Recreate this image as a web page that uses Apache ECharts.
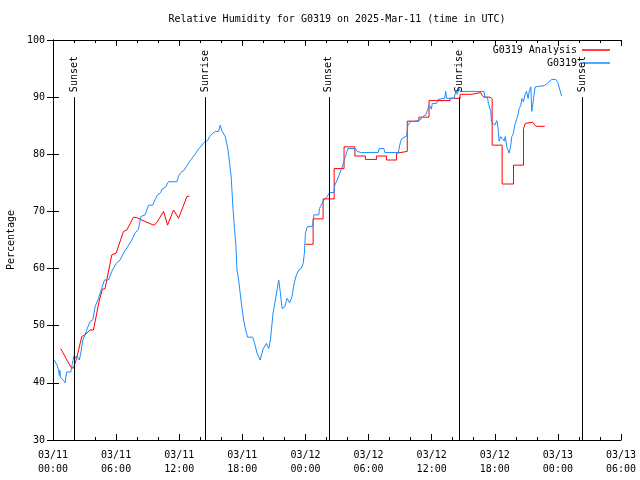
<!DOCTYPE html>
<html><head><meta charset="utf-8">
<script src="https://cdn.jsdelivr.net/npm/echarts@6/dist/echarts.min.js"></script>
<style>html,body{margin:0;padding:0;background:#fff}#c{width:640px;height:480px}</style>
</head><body><div id="c"></div>
<script>
// hours since 03/11 00:00 UTC
const blueHours = [0.12,0.41,0.55,0.6,0.65,0.7,0.83,1.0,1.14,1.3,1.69,1.84,2.03,2.1,2.25,2.5,2.67,2.83,3.05,3.21,3.52,3.78,4.0,4.32,4.63,4.89,5.27,5.59,6.0,6.38,6.7,7.08,7.49,7.81,8.13,8.35,8.76,8.92,9.08,9.49,9.71,9.94,10.25,10.35,10.67,10.98,11.78,11.94,12.16,12.48,12.73,12.98,13.21,13.52,13.84,14.1,14.38,14.7,14.89,15.11,15.43,15.75,15.9,16.06,16.38,16.54,16.63,16.79,16.95,17.1,17.24,17.4,17.49,17.65,17.87,18.12,18.32,18.5,18.98,19.17,19.4,19.7,19.97,20.29,20.51,20.67,20.92,21.14,21.3,21.46,21.62,21.78,22.03,22.25,22.5,22.73,22.89,23.14,23.37,23.59,23.78,23.9,24.0,24.1,24.17,24.32,24.7,24.79,25.27,25.33,25.49,25.65,25.75,26.06,26.29,26.7,26.79,27.02,27.27,27.49,27.65,27.81,28.03,28.76,28.92,29.3,30.92,31.0,31.46,31.55,32.83,32.9,33.05,33.2,33.62,33.74,34.0,34.38,34.48,34.89,35.02,35.17,35.43,35.59,35.75,35.81,35.97,36.06,36.48,36.6,37.24,37.33,37.43,38.13,38.29,38.45,38.6,38.75,40.98,41.05,41.3,41.4,41.5,41.62,41.68,41.85,42.0,42.2,42.32,42.41,42.57,42.75,42.9,43.0,43.14,43.37,43.5,43.62,43.78,43.9,44.1,44.22,44.32,44.48,44.57,44.73,44.86,45.02,45.17,45.27,45.43,45.52,45.65,45.84,46.7,47.0,47.4,47.8,48.0,48.14,48.35];
const blueValues = [44.0,43.0,42.0,41.3,42.2,41.0,40.8,40.4,40.0,41.9,41.9,43.4,44.9,44.3,44.7,44.0,45.5,47.5,48.4,49.3,50.7,51.0,53.3,54.8,56.5,58.0,58.0,59.5,60.9,61.5,62.7,63.8,65.0,66.2,66.9,69.1,69.4,70.25,71.1,71.1,72.1,72.9,73.3,73.9,74.2,75.2,75.2,76.2,76.8,77.25,78.0,78.7,79.3,80.05,80.9,81.45,82.1,82.4,83.1,83.55,84.0,84.0,85.1,84.1,83.1,83.1,80.9,78.5,75.8,70.8,67.3,63.8,59.75,58.0,54.5,51.0,49.25,48.0,48.0,46.9,45.2,44.0,45.9,46.9,46.0,47.5,52.2,54.5,56.25,58.0,55.7,53.0,53.3,54.8,54.0,55.1,57.1,58.9,59.75,60.0,60.9,62.7,66.2,66.5,67.3,67.3,67.45,69.4,69.4,70.5,71.1,70.9,72.0,72.6,73.3,73.3,74.6,75.5,76.7,77.8,78.7,79.6,81.0,81.0,80.5,80.3,80.3,81.0,81.0,80.3,80.3,81.0,82.3,82.8,83.2,85.1,85.75,85.75,86.0,86.0,86.3,86.6,86.9,87.6,88.6,88.9,87.9,88.9,88.9,89.6,89.8,91.0,89.8,89.8,91.0,90.5,91.5,91.0,91.0,90.0,90.0,88.9,88.6,87.5,85.75,86.0,85.1,85.9,84.5,82.3,83.1,82.8,82.3,83.1,81.3,80.2,81.3,83.1,83.7,85.1,86.25,87.1,88.0,88.6,89.75,89.2,90.4,91.0,89.75,91.0,91.8,87.5,89.2,91.8,92.0,92.4,93.1,93.1,92.5,91.6,90.2];
const redHours = [0.73,0.92,1.68,1.94,2.25,2.73,3.05,3.52,3.84,4.41,4.7,4.95,5.59,6.0,6.7,7.02,7.65,7.97,8.44,9.56,9.81,10.51,10.89,11.46,11.94,12.73,12.98,18,24.0,24.73,24.73,25.68,25.68,26.73,26.73,27.67,27.67,28.7,28.7,29.7,29.7,30.76,30.76,31.7,31.7,32.67,32.67,32.75,33.68,33.68,34.79,34.79,35.75,35.75,37.75,37.75,38.7,38.7,39.8,39.8,40.67,40.8,41.0,41.55,41.75,41.75,42.7,42.7,43.78,43.78,44.73,44.73,44.9,45.6,45.9,46.76];
const redValues = [46.0,45.9,42.8,42.55,44.3,48.1,48.4,49.25,49.25,54.5,56.4,56.5,62.4,62.7,66.5,66.75,69.0,68.9,68.5,67.6,67.9,70.0,67.6,70.25,68.8,72.6,72.7,null,64.25,64.25,68.7,68.7,72.2,72.2,77.5,77.5,81.3,81.3,79.7,79.7,79.1,79.1,79.7,79.7,79.0,79.0,80.2,80.5,80.5,85.8,85.8,86.5,86.5,89.4,89.4,89.8,89.8,90.5,90.5,90.8,90.8,90.3,90.0,90.0,89.7,81.6,81.6,74.8,74.8,78.1,78.1,84.5,85.4,85.6,84.9,84.9];
const eventHours = [2.03, 14.5, 26.22, 38.6, 50.35];
const eventLabels = ['Sunset', 'Sunrise', 'Sunset', 'Sunrise', 'Sunset'];
const xTickLabels = ['03/11\n00:00','03/11\n06:00','03/11\n12:00','03/11\n18:00','03/12\n00:00','03/12\n06:00','03/12\n12:00','03/12\n18:00','03/13\n00:00','03/13\n06:00'];
const titleText = 'Relative Humidity for G0319 on 2025-Mar-11 (time in UTC)';
const yName = 'Percentage';
const redName = 'G0319 Analysis';
const blueName = 'G0319';

const FONT = 'DejaVu Sans Mono';
const blueData = blueHours.map((h, i) => [h, blueValues[i]]);
const redData = redHours.map((h, i) => [h, redValues[i]]);

const markData = [];
eventHours.forEach((h, i) => {
  markData.push([{coord: [h, 30], lineStyle: {color: '#000', width: 1, type: 'solid'}, label: {show: false}}, {coord: [h, 90]}]);
  markData.push([{coord: [h, 90], lineStyle: {color: 'rgba(0,0,0,0)', width: 1},
    label: {show: true, formatter: eventLabels[i], position: 'insideStart', distance: 5, color: '#000', fontFamily: FONT, fontSize: 10}},
    {coord: [h, 99]}]);
});

const tickCommon = {show: true, inside: true, length: 6, lineStyle: {color: '#000', width: 1}};
const chart = echarts.init(document.getElementById('c'), null, {renderer: 'canvas'});
chart.setOption({
  animation: false,
  backgroundColor: '#fff',
  textStyle: {fontFamily: FONT},
  title: {text: titleText, left: 337, top: 14, padding: 0, textAlign: 'center',
    textStyle: {fontFamily: FONT, fontSize: 10, fontWeight: 'normal', color: '#000'}},
  legend: [
    {data: [redName], right: 30, top: 45, padding: 0, align: 'right', icon: 'rect', itemWidth: 28, itemHeight: 1.5,
     textStyle: {fontFamily: FONT, fontSize: 10, color: '#000'}},
    {data: [blueName], right: 30, top: 58, padding: 0, align: 'right', icon: 'rect', itemWidth: 28, itemHeight: 1.5,
     textStyle: {fontFamily: FONT, fontSize: 10, color: '#000'}}
  ],
  grid: {left: 53, right: 19, top: 40, bottom: 40, containLabel: false, outerBoundsMode: 'none'},
  xAxis: [
    {type: 'value', min: 0, max: 54, interval: 6, position: 'bottom',
     axisLine: {show: true, lineStyle: {color: '#000', width: 1}},
     axisTick: tickCommon,
     minorTick: {show: true, splitNumber: 3, length: 3, lineStyle: {color: '#000', width: 1}},
     splitLine: {show: false},
     axisLabel: {margin: 8, color: '#000', fontFamily: FONT, fontSize: 10, lineHeight: 14,
       formatter: v => xTickLabels[Math.round(v / 6)]}},
    {type: 'value', min: 0, max: 54, interval: 6, position: 'top',
     axisLine: {show: true, lineStyle: {color: '#000', width: 1}},
     axisTick: tickCommon,
     minorTick: {show: true, splitNumber: 3, length: 3, lineStyle: {color: '#000', width: 1}},
     splitLine: {show: false}, axisLabel: {show: false}}
  ],
  yAxis: [
    {type: 'value', min: 30, max: 100, interval: 10, position: 'left',
     name: yName, nameLocation: 'middle', nameGap: 37,
     nameTextStyle: {fontFamily: FONT, fontSize: 10, color: '#000'},
     axisLine: {show: true, lineStyle: {color: '#000', width: 1}},
     axisTick: tickCommon, splitLine: {show: false},
     axisLabel: {margin: 8, color: '#000', fontFamily: FONT, fontSize: 10}},
    {type: 'value', min: 30, max: 100, interval: 10, position: 'right',
     axisLine: {show: true, lineStyle: {color: '#000', width: 1}},
     axisTick: tickCommon, splitLine: {show: false}, axisLabel: {show: false}}
  ],
  series: [
    {name: redName, type: 'line', data: redData, showSymbol: false, symbol: 'none',
     connectNulls: false, color: '#ff0000', lineStyle: {color: '#ff0000', width: 1}},
    {name: blueName, type: 'line', data: blueData, showSymbol: false, symbol: 'none',
     color: '#1a8cff', lineStyle: {color: '#1a8cff', width: 1},
     markLine: {silent: true, symbol: ['none', 'none'], animation: false, data: markData}}
  ]
});
</script></body></html>
